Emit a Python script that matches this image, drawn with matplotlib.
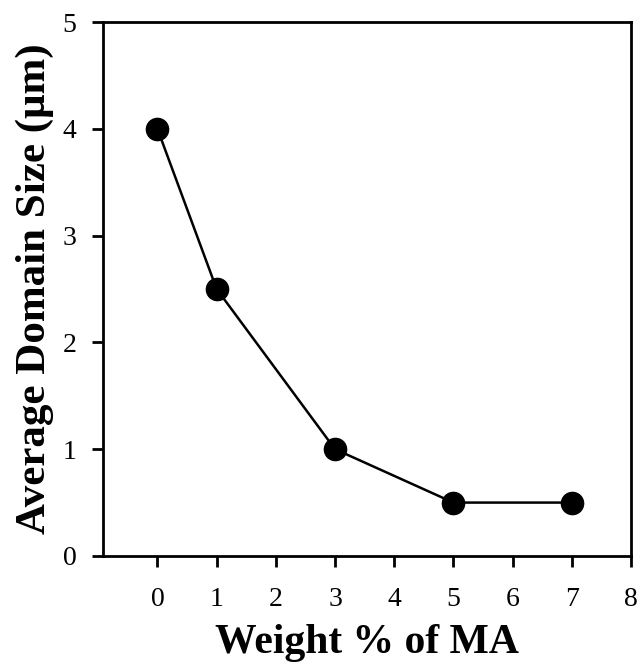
import matplotlib
matplotlib.use("Agg")
import matplotlib.pyplot as plt

# weight percent of MA vs average domain size
wt_ma = [0, 1, 3, 5, 7]
domain_size = [4.0, 2.5, 1.0, 0.5, 0.5]
xticks = [0, 1, 2, 3, 4, 5, 6, 7, 8]
yticks = [0, 1, 2, 3, 4, 5]

plt.rcParams['font.family'] = ['Liberation Serif', 'DejaVu Serif']

fig = plt.figure(figsize=(6.38, 6.68), dpi=100)
ax = fig.add_axes([0.1614, 0.1677, 0.989 - 0.1614, 0.967 - 0.1677])

ax.plot(wt_ma, domain_size, color='black', lw=1.8, marker='o',
        markersize=16, markerfacecolor='black', markeredgecolor='black')

ax.set_xlim(-0.92, 8)
ax.set_ylim(0, 5)
ax.set_xticks(xticks)
ax.set_yticks(yticks)
ax.tick_params(direction='out', length=8, width=2, labelsize=20)
ax.tick_params(axis='x', pad=14)
ax.tick_params(axis='y', pad=11)
for s in ax.spines.values():
    s.set_linewidth(2)

ax.set_xlabel('Weight % of MA', fontsize=30, fontweight='bold', labelpad=9)
ax.set_ylabel('Average Domain Size (\u03bcm)', fontsize=31, fontweight='bold', labelpad=6)

fig.savefig('out.png', dpi=100)
